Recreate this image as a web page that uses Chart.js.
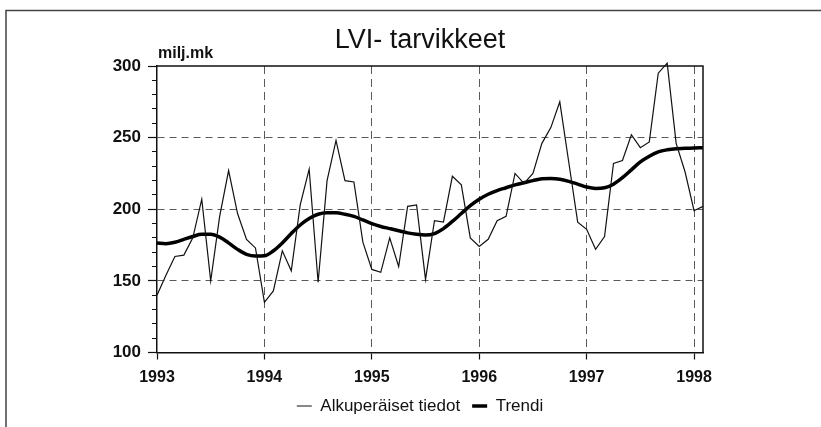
<!DOCTYPE html>
<html><head><meta charset="utf-8">
<script src="https://cdn.jsdelivr.net/npm/chart.js@4.4.0/dist/chart.umd.min.js"></script>
<style>html,body{margin:0;padding:0;background:#fff}#wrap{width:821px;height:427px}</style>
</head><body><div id="wrap"><canvas id="c" width="821" height="427"></canvas></div>
<script>
// ---- data ----
const startYear = 1993;
const monthCount = 62; // Jan 1993 .. Feb 1998
const categories = [];
for (let i = 0; i < monthCount; i++) {
  const y = startYear + Math.floor(i / 12), m = (i % 12) + 1;
  categories.push(y + '-' + String(m).padStart(2, '0'));
}
const original = [
  140, 154, 167, 168, 180, 207, 150, 195, 227, 197, 179, 173,
  135, 143, 171, 157, 203, 228, 149, 220, 248, 220, 219, 177,
  158, 156, 180, 160, 202, 203, 151, 192, 191, 223, 217, 180,
  174, 179, 192, 195, 225, 218, 225, 246, 257, 275, 233, 191,
  186, 172, 181, 232, 234, 252, 243, 247, 295, 302, 246, 226,
  199, 202
];
const trend = [
  176.5, 176, 177, 179, 181, 182.5, 182.5, 180.5, 176.5, 172, 168.5, 167.3,
  167.5, 171, 176.5, 183, 189, 193.5, 196.5, 197.5, 197.5, 196.5, 195, 192.5,
  190, 188, 186.5, 185, 183.5, 182.5, 182, 183, 186.5, 191.5, 197, 202.5,
  207, 210.5, 213, 215, 217, 218.5, 220, 221.3, 221.5, 221, 219.5, 217.5,
  215.5, 214.5, 215, 217.5, 222, 227.5, 233, 237, 240, 241.5, 242.3, 242.5,
  242.8, 243
];
const yearTicks = [1993, 1994, 1995, 1996, 1997, 1998];
const yMajorTicks = [100, 150, 200, 250, 300];
const yGridLines = [150, 200, 250];
const seriesNames = ['Alkuperäiset tiedot', 'Trendi'];
const titleText = 'LVI- tarvikkeet';
const unitText = 'milj.mk';

// x position of each category (decimal year)
const xOf = categories.map(c => { const [y, m] = c.split('-').map(Number); return y + (m - 1) / 12; });

const INK = '#111';
const GRID = '#5a5a5a';
const FAM = '"Liberation Sans", Arial, sans-serif';

const decor = {
  id: 'decor',
  beforeDraw(chart) {
    const ctx = chart.ctx;
    ctx.save();
    ctx.strokeStyle = '#444';
    ctx.lineWidth = 1.5;
    ctx.beginPath();
    ctx.moveTo(6, chart.height);
    ctx.lineTo(6, 10.5);
    ctx.lineTo(chart.width, 10.5);
    ctx.stroke();
    ctx.restore();
  },
  afterDraw(chart) {
    const { ctx, chartArea: a } = chart;
    ctx.save();
    ctx.strokeStyle = INK;
    ctx.lineWidth = 1.5;
    ctx.beginPath();
    ctx.moveTo(a.left, a.top);
    ctx.lineTo(a.right, a.top);
    ctx.lineTo(a.right, a.bottom);
    ctx.stroke();
    ctx.fillStyle = INK;
    ctx.font = 'bold 16px ' + FAM;
    ctx.textAlign = 'left';
    ctx.textBaseline = 'alphabetic';
    ctx.fillText(unitText, a.left + 1, a.top - 8);
    ctx.restore();
  }
};

new Chart(document.getElementById('c'), {
  type: 'line',
  data: {
    datasets: [
      { label: seriesNames[0], data: xOf.map((x, i) => ({ x, y: original[i] })),
        borderColor: INK, backgroundColor: INK, borderWidth: 1.2, pointRadius: 0, tension: 0, fill: false, clip: 6 },
      { label: seriesNames[1], data: xOf.map((x, i) => ({ x, y: trend[i] })),
        borderColor: '#000', backgroundColor: '#000', borderWidth: 3.5, pointRadius: 0, cubicInterpolationMode: 'monotone', fill: false }
    ]
  },
  options: {
    responsive: false, animation: false, devicePixelRatio: 1,
    layout: { padding: { left: 19, right: 0, top: 0, bottom: 2.5 } },
    plugins: {
      title: { display: true, text: titleText, color: INK,
        font: { family: FAM, size: 27, weight: 'normal' },
        padding: { top: 24, bottom: 9.6 } },
      legend: { position: 'bottom',
        labels: { usePointStyle: true, pointStyle: 'line', pointStyleWidth: 15, color: INK, padding: 12,
          font: { family: FAM, size: 17 } } },
      tooltip: { enabled: false }
    },
    scales: {
      x: { type: 'linear', min: startYear, max: xOf[xOf.length - 1],
        afterBuildTicks: s => { s.ticks = yearTicks.map(v => ({ value: v })); },
        afterFit: s => { s.height = 33; },
        ticks: { color: INK, font: { family: FAM, size: 16, weight: 'bold', lineHeight: 1 }, padding: 10.5, maxRotation: 0, autoSkip: false, callback: v => String(v) },
        grid: { color: c => (c.tick && c.tick.value === yearTicks[0]) ? 'rgba(0,0,0,0)' : GRID, lineWidth: 1, tickLength: 7, tickColor: INK, tickWidth: 1.2 },
        border: { display: true, color: INK, width: 1.5, dash: [8, 5] } },
      y: { min: 100, max: 300,
        afterFit: s => { s.width = 138; },
        ticks: { stepSize: 10, autoSkip: false, color: INK, font: { family: FAM, size: 17, weight: 'bold' }, padding: 7,
          callback: v => yMajorTicks.includes(v) ? String(v) : '' },
        grid: { color: c => (c.tick && yGridLines.includes(c.tick.value)) ? GRID : 'rgba(0,0,0,0)', lineWidth: 1,
          tickLength: 9, tickColor: INK, tickWidth: 1.2,
          tickBorderDash: c => (c.tick && yMajorTicks.includes(c.tick.value)) ? [] : [0, 4, 5, 100] },
        border: { display: true, color: INK, width: 1.5, dash: [7, 5] } },
      yR: { position: 'right', display: true, min: 0, max: 1,
        afterFit: s => { s.width = 118; },
        grid: { display: false, drawTicks: false }, ticks: { display: false }, border: { display: false } }
    }
  },
  plugins: [decor]
});
</script></body></html>
